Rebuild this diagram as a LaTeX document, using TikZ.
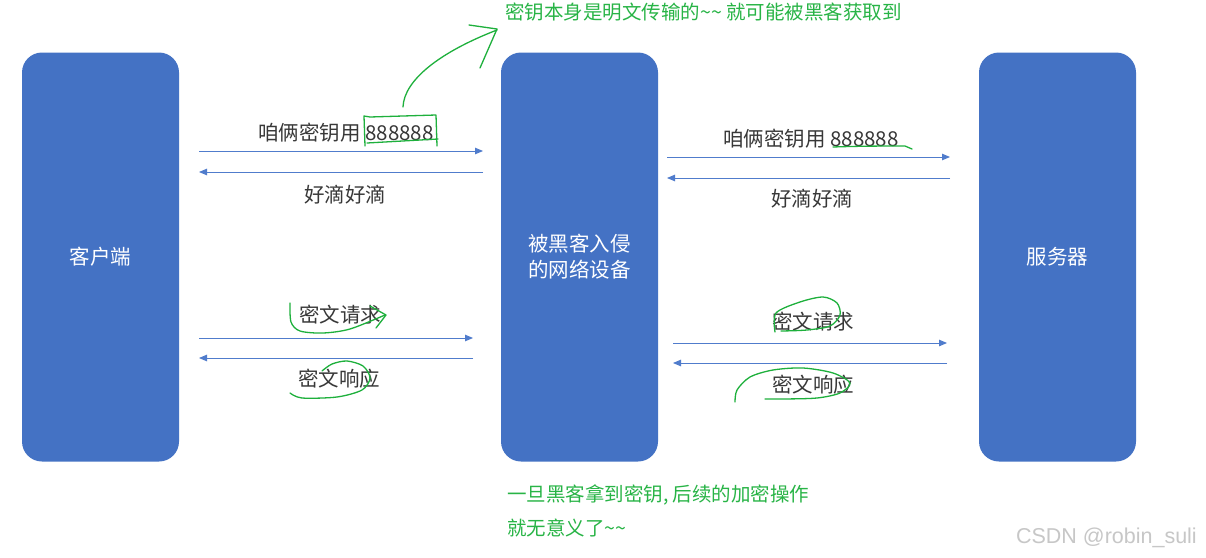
\documentclass[tikz,border=0pt]{standalone}
\usepackage{fontspec}
\setmainfont{Noto Sans CJK SC}
\newfontfamily\wmfont{Liberation Sans}
\usetikzlibrary{arrows.meta}
\definecolor{boxblue}{RGB}{68,114,196}
\definecolor{linkblue}{RGB}{80,124,204}
\definecolor{txtgray}{RGB}{56,56,56}
\definecolor{pen}{RGB}{30,176,60}
\definecolor{pentxt}{RGB}{40,180,70}
\begin{document}
\begin{tikzpicture}[x=1pt,y=-1pt,
  hostbox/.style={fill=boxblue,draw=none,rounded corners=20pt,minimum width=157pt,minimum height=409pt,inner sep=0pt,text=white,font=\fontsize{20.5}{26}\selectfont,align=center},
  msg/.style={text=txtgray,font=\fontsize{20.5}{24}\selectfont,inner sep=0pt},
  link/.style={draw=linkblue,line width=0.9pt,-{Triangle[length=8pt,width=6.5pt]}},
  note/.style={text=pentxt,font=\fontsize{19.5}{33}\selectfont,inner sep=0pt,anchor=west,align=left},
  scribble/.style={draw=pen,line width=1.3pt,line cap=round,line join=round}]
\useasboundingbox (0,0) rectangle (1206,557);
\fill[white] (0,0) rectangle (1206,557);
% hosts
\node[hostbox] (client) at (100.5,257) {客户端};
\node[hostbox] (proxy) at (579.5,257) {被黑客入侵\\的网络设备};
\node[hostbox] (server) at (1057.5,257) {服务器};
% connector end points
\coordinate (a1s) at (199,151); \coordinate (a1e) at (483,151);
\coordinate (a2s) at (483,172); \coordinate (a2e) at (199,172);
\coordinate (a3s) at (199,338); \coordinate (a3e) at (473,338);
\coordinate (a4s) at (473,358); \coordinate (a4e) at (199,358);
\coordinate (b1s) at (667,157); \coordinate (b1e) at (950,157);
\coordinate (b2s) at (950,178); \coordinate (b2e) at (667,178);
\coordinate (b3s) at (673,343); \coordinate (b3e) at (947,343);
\coordinate (b4s) at (947,363); \coordinate (b4e) at (673,363);
\draw[link] (a1s) -- (a1e);
\draw[link] (a2s) -- (a2e);
\draw[link] (a3s) -- (a3e);
\draw[link] (a4s) -- (a4e);
\draw[link] (b1s) -- (b1e);
\draw[link] (b2s) -- (b2e);
\draw[link] (b3s) -- (b3e);
\draw[link] (b4s) -- (b4e);
% labels
\node[msg] (l1) at (346,133) {咱俩密钥用 888888};
\node[msg] (l2) at (345,195) {好滴好滴};
\node[msg] (l3) at (340,315) {密文请求};
\node[msg] (l4) at (339,379) {密文响应};
\node[msg] (r1) at (811,139) {咱俩密钥用 888888};
\node[msg] (r2) at (812,199) {好滴好滴};
\node[msg] (r3) at (813,322) {密文请求};
\node[msg] (r4) at (813,385) {密文响应};
% green notes
\node[note] (n1) at (505,12) {密钥本身是明文传输的\textasciitilde\textasciitilde{} 就可能被黑客获取到};
\node[note] (n2) at (507,495) {一旦黑客拿到密钥, 后续的加密操作};
\node[note] (n3) at (507,528) {就无意义了\textasciitilde\textasciitilde};
% handwritten marks
\draw[scribble] (365,146) -- (364,116) -- (370,117) -- (436,115) -- (437,146);
\draw[scribble] (367,143) -- (438,139);
\draw[scribble] (403,107) .. controls (404,80) and (440,52) .. (497,30);
\draw[scribble] (469,25) -- (497,29) -- (480,68);
\draw[scribble] (833,147) .. controls (860,146) and (890,146) .. (905,146) -- (912,149);
\draw[scribble] plot[smooth] coordinates {(290,303) (291,322) (300,331) (323,333) (350,329) (385,315)};
\draw[scribble] (370,306) -- (386,315) -- (376,328);
\draw[scribble] plot[smooth] coordinates {(290,393) (302,398) (337,397) (362,390) (370,378) (363,366) (347,361) (332,364) (322,371)};
\draw[scribble] plot[smooth] coordinates {(775,332) (776,313) (800,302) (823,297) (837,303) (840,315) (830,326) (807,330) (781,331)};
\draw[scribble] plot[smooth] coordinates {(735,402) (737,390) (750,377) (773,370) (803,368) (833,373) (850,383) (840,393) (817,398) (783,399) (765,399)};
% watermark
\node[text=black!22,font=\wmfont\fontsize{21.5}{24}\selectfont,inner sep=0pt,anchor=east] (wm) at (1197,538) {CSDN @robin\_suli};
\end{tikzpicture}
\end{document}
